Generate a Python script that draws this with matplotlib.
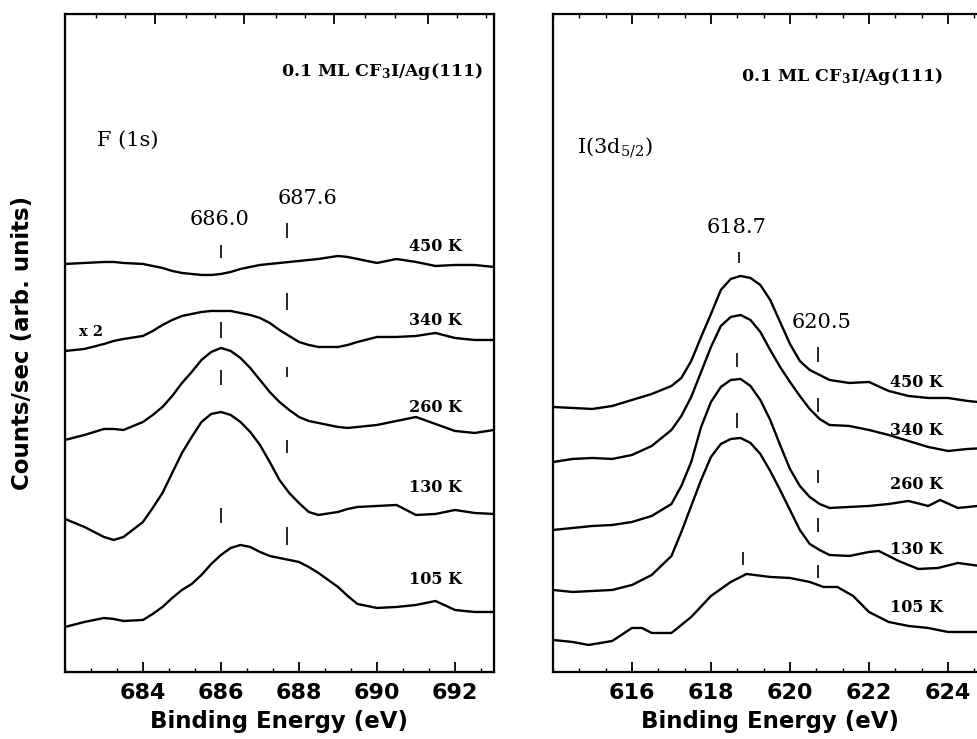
import numpy as np
import matplotlib
matplotlib.use('Agg')
import matplotlib.pyplot as plt
from matplotlib.ticker import MultipleLocator, NullFormatter

plt.rcParams['mathtext.fontset'] = 'dejavuserif'

# ---- F(1s) spectra, intensity in arb. units ----
f_energy = [682.0, 682.5, 683.0, 683.25, 683.5, 684.0, 684.25, 684.5, 684.75, 685.0, 685.25, 685.5,
            685.75, 686.0, 686.25, 686.5, 686.75, 687.0, 687.25, 687.5, 687.75, 688.0, 688.25, 688.5,
            689.0, 689.25, 689.5, 690.0, 690.5, 691.0, 691.5, 692.0, 692.5, 693.0]
f_450 = [408, 409, 410, 410, 409, 408, 406, 404, 401, 399, 398, 397,
         397, 398, 400, 403, 405, 407, 408, 409, 410, 411, 412, 413,
         416, 415, 413, 409, 413, 410, 406, 407, 407, 405]
f_340 = [321, 323, 328, 331, 333, 336, 341, 347, 352, 356, 358, 360,
         361, 361, 361, 359, 357, 354, 349, 342, 336, 330, 327, 325,
         325, 327, 330, 335, 335, 336, 339, 334, 332, 332]
f_260 = [232, 237, 243, 243, 242, 250, 257, 265, 276, 289, 300, 312,
         320, 324, 321, 314, 304, 292, 280, 270, 262, 255, 251, 249,
         245, 244, 245, 247, 251, 255, 248, 241, 239, 242]
f_130 = [153, 145, 135, 132, 135, 150, 164, 179, 199, 219, 235, 250,
         258, 260, 257, 250, 240, 227, 210, 192, 179, 169, 160, 157,
         160, 163, 165, 166, 167, 157, 158, 162, 159, 158]
f_105 = [45, 50, 54, 53, 51, 52, 58, 65, 74, 82, 88, 97,
         108, 117, 124, 127, 125, 120, 116, 114, 112, 110, 105, 99,
         85, 76, 68, 64, 65, 67, 71, 62, 60, 60]

# ---- I(3d5/2) spectra ----
i_energy = [614.0, 614.5, 615.0, 615.5, 616.0, 616.5, 617.0, 617.25, 617.5, 617.75, 618.0, 618.25,
            618.5, 618.75, 619.0, 619.25, 619.5, 619.75, 620.0, 620.25, 620.5, 620.75, 621.0, 621.5,
            622.0, 622.5, 623.0, 623.5, 624.0, 624.5, 625.0]
i_450 = [265, 264, 263, 266, 272, 278, 286, 294, 311, 335, 358, 382,
         393, 396, 394, 387, 372, 350, 328, 311, 302, 297, 292, 289,
         290, 281, 276, 274, 274, 271, 269]
i_340 = [210, 213, 214, 213, 217, 226, 242, 256, 275, 300, 325, 346,
         355, 357, 352, 340, 322, 305, 290, 276, 263, 253, 247, 246,
         242, 237, 231, 225, 221, 223, 224]
i_energy_260 = [614.0, 614.5, 615.0, 615.5, 616.0, 616.5, 617.0, 617.25, 617.5, 617.75, 618.0, 618.25,
                618.5, 618.75, 619.0, 619.25, 619.5, 619.75, 620.0, 620.25, 620.5, 620.75, 621.0, 621.5,
                622.0, 622.5, 623.0, 623.5, 623.8, 624.25, 625.0]
i_260 = [142, 144, 146, 147, 150, 156, 168, 186, 210, 245, 270, 285,
         292, 293, 286, 272, 252, 227, 203, 186, 175, 168, 164, 165,
         166, 168, 171, 166, 172, 164, 167]
i_energy_130 = [614.0, 614.5, 615.0, 615.5, 616.0, 616.5, 617.0, 617.25, 617.5, 617.75, 618.0, 618.25,
                618.5, 618.75, 619.0, 619.25, 619.5, 619.75, 620.0, 620.25, 620.5, 620.75, 621.0, 621.5,
                622.0, 622.25, 622.75, 623.25, 623.75, 624.25, 625.0]
i_130 = [82, 80, 81, 82, 87, 97, 116, 140, 166, 192, 215, 228,
         233, 234, 229, 218, 201, 182, 162, 142, 128, 122, 117, 116,
         120, 121, 111, 103, 104, 109, 105]
i_energy_105 = [614.0, 614.5, 614.9, 615.5, 616.0, 616.25, 616.5, 617.0, 617.5, 618.0, 618.5, 618.9,
                619.5, 620.0, 620.5, 620.85, 621.2, 621.6, 622.0, 622.5, 623.0, 623.5, 624.0, 624.5, 625.0]
i_105 = [32, 30, 27, 31, 44, 44, 39, 39, 55, 76, 90, 98,
         95, 94, 90, 85, 85, 76, 60, 50, 46, 44, 40, 40, 40]

temps = ['450 K', '340 K', '260 K', '130 K', '105 K']
f_label_y = [425, 351, 264, 184, 92]
i_label_y = [289, 241, 187, 122, 64]

# peak markers (energy, [(ymin, ymax), ...])
f_marks = {686.0: [(414, 427), (334, 350), (287, 302), (149, 164)],
           687.7: [(434, 449), (362, 379), (295, 305), (219, 232), (127, 145)]}
i_marks = {618.7: [(409, 420)], 618.65: [(305, 319), (244, 259)], 618.8: [(107, 120)],
           620.7: [(310, 325), (260, 274), (189, 202), (140, 154), (94, 107)]}

f_ticks = [684, 686, 688, 690, 692]
i_ticks = [616, 618, 620, 622, 624]

# top axis ticks of the F panel (differ from the bottom scale)
f_top_major = [684.3, 686.6, 688.9, 691.3]
f_top_minor = [682.8, 683.55, 685.1, 685.85, 687.4, 688.15, 689.7, 690.45, 692.05, 692.8]

serif = 'DejaVu Serif'
sans = 'DejaVu Sans'

fig = plt.figure(figsize=(9.77, 7.39), dpi=100)
ax1 = fig.add_axes([0.0665, 0.0907, 0.4391, 0.8904])
ax2 = fig.add_axes([0.566, 0.0907, 0.4447, 0.8904])

lw = 1.7
for y in (f_450, f_340, f_260, f_130, f_105):
    ax1.plot(f_energy, y, color='black', lw=lw, solid_joinstyle='round')

ax2.plot(i_energy, i_450, color='black', lw=lw, solid_joinstyle='round')
ax2.plot(i_energy, i_340, color='black', lw=lw, solid_joinstyle='round')
ax2.plot(i_energy_260, i_260, color='black', lw=lw, solid_joinstyle='round')
ax2.plot(i_energy_130, i_130, color='black', lw=lw, solid_joinstyle='round')
ax2.plot(i_energy_105, i_105, color='black', lw=lw, solid_joinstyle='round')

for e, segs in f_marks.items():
    for lo, hi in segs:
        ax1.vlines(e, lo, hi, color='black', lw=1.2)
for e, segs in i_marks.items():
    for lo, hi in segs:
        ax2.vlines(e, lo, hi, color='black', lw=1.2)

for t, y in zip(temps, f_label_y):
    ax1.text(691.5, y, t, ha='center', va='center', fontsize=11.5, fontweight='bold', family=serif)
for t, y in zip(temps, i_label_y):
    ax2.text(623.2, y, t, ha='center', va='center', fontsize=11.5, fontweight='bold', family=serif)

ax1.text(682.67, 340, 'x 2', ha='center', va='center', fontsize=10.5, fontweight='bold', family=serif)
ax1.text(692.72, 600, r'0.1 ML CF$_\mathbf{3}$I/Ag(111)', ha='right', va='center',
         fontsize=12.5, fontweight='bold', family=serif)
ax2.text(623.87, 595, r'0.1 ML CF$_\mathbf{3}$I/Ag(111)', ha='right', va='center',
         fontsize=12.5, fontweight='bold', family=serif)
ax1.text(682.82, 532, 'F (1s)', ha='left', va='center', fontsize=15, family=serif)
ax2.text(614.61, 524, r'I(3d$_{5/2}$)', ha='left', va='center', fontsize=15, family=serif)
ax1.text(685.97, 452, '686.0', ha='center', va='center', fontsize=15, family=serif)
ax1.text(688.23, 473, '687.6', ha='center', va='center', fontsize=15, family=serif)
ax2.text(618.66, 444, '618.7', ha='center', va='center', fontsize=15, family=serif)
ax2.text(620.81, 349, '620.5', ha='center', va='center', fontsize=15, family=serif)

ax1.set_xlim(682, 693)
ax2.set_xlim(614, 625)
ax1.set_xticks(f_ticks)
ax2.set_xticks(i_ticks)
for ax in (ax1, ax2):
    ax.set_ylim(0, 658)
    ax.set_yticks([])
    ax.xaxis.set_minor_locator(MultipleLocator(2 / 3))
    ax.tick_params(axis='x', which='major', direction='in', length=7, width=1.3, pad=8)
    ax.tick_params(axis='x', which='minor', direction='in', length=3, width=1.0)
    for sp in ax.spines.values():
        sp.set_linewidth(1.6)
    for lab in ax.get_xticklabels():
        lab.set_fontweight('bold')
        lab.set_fontsize(16)
        lab.set_family(sans)
    ax.set_xlabel('Binding Energy (eV)', fontsize=16.5, fontweight='bold', family=sans, labelpad=5)

ax1.tick_params(axis='x', which='both', top=False)
ax2.tick_params(axis='x', which='both', top=True)

top = ax1.twiny()
top.set_xlim(ax1.get_xlim())
top.set_xticks(f_top_major)
top.set_xticks(f_top_minor, minor=True)
top.xaxis.set_major_formatter(NullFormatter())
top.tick_params(axis='x', which='major', direction='in', length=7, width=1.3)
top.tick_params(axis='x', which='minor', direction='in', length=3, width=1.0)
top.set_yticks([])

fig.text(0.023, 0.536, 'Counts/sec (arb. units)', rotation=90, ha='center', va='center',
         fontsize=16.5, fontweight='bold', family=sans)

fig.savefig('out.png', dpi=100)
